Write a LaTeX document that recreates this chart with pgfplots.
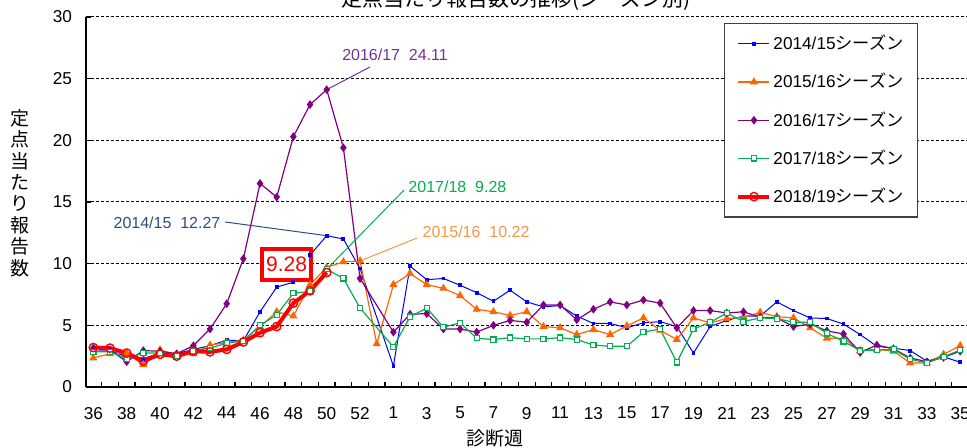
\documentclass[border=0pt]{standalone}
\usepackage{pgfplots}
\pgfplotsset{compat=1.18}
\usepackage{fontspec}
\setmainfont{Liberation Sans}
\newfontfamily\jp{Noto Sans CJK JP}
\definecolor{cblue}{HTML}{0000FF}
\definecolor{corange}{HTML}{FF6600}
\definecolor{cpurple}{HTML}{800080}
\definecolor{cgreen}{HTML}{00B050}
\definecolor{cred}{HTML}{FF0000}
\definecolor{apurple}{HTML}{7030A0}
\definecolor{aorange}{HTML}{F79646}
\definecolor{ablue}{HTML}{2E4E7E}
\begin{document}
\begin{tikzpicture}
\begin{axis}[
  name=a, scale only axis, width=440.5pt, height=185pt,
  xmin=-0.44, xmax=52.41, ymin=0, ymax=30,
  axis x line*=bottom, axis y line*=left,
  axis line style={-, line width=0.75pt, black},
  xtick={0,2,...,52},
  xticklabels={36,38,40,42,44,46,48,50,52,1,3,5,7,9,11,13,15,17,19,21,23,25,27,29,31,33,35},
  minor xtick={-0.5,0.5,...,52.5},
  major x tick style={draw=none},
  minor x tick style={black, line width=0.6pt},
  minor tick length=2.5pt,
  ytick={0,5,...,30},
  major y tick style={black, line width=0.6pt},
  major tick length=2.5pt,
  ymajorgrids,
  major grid style={black, dash pattern=on 1.5pt off 1pt, line width=0.5pt},
  tick label style={font=\fontsize{8.6}{10}\selectfont},
  xticklabel style={yshift=-6.5pt},
  yticklabel style={xshift=-3.5pt},
  /pgf/number format/assume math mode=true,
  legend style={at={(axis description cs:0.724,0.984)}, anchor=north west,
    draw=black!75, line width=0.6pt, fill=white,
    font=\fontsize{8.6}{10}\selectfont,
    nodes={inner sep=1pt},
    inner xsep=6pt, inner ysep=4.75pt, row sep=8.3pt, column sep=0pt},
  legend cell align=left,
  legend image code/.code={\draw[mark repeat=2,mark phase=2,#1] plot coordinates {(0pt,0pt) (7.75pt,0pt) (15.5pt,0pt)};},
]
% 2014/15
\addplot[cblue, line width=0.5pt, mark=square*, mark size=0.7pt, mark options={solid}] coordinates {
(0,2.9)(1,2.95)(2,2.45)(3,2.3)(4,2.75)(5,2.7)(6,3.05)(7,3.35)(8,3.8)(9,3.75)
(10,6.1)(11,8.1)(12,8.5)(13,10.7)(14,12.27)(15,12.0)(16,9.6)
(18,1.7)(19,9.8)(20,8.7)(21,8.8)(22,8.25)(23,7.65)(24,6.95)(25,7.85)(26,6.9)
(27,6.5)(28,6.6)(29,5.75)(30,5.15)(31,5.15)(32,4.8)(33,5.2)(34,5.3)(35,4.9)
(36,2.75)(37,4.9)(38,5.4)(39,5.75)(40,5.75)(41,6.9)(42,6.2)(43,5.6)(44,5.55)
(45,5.1)(46,4.25)(47,3.3)(48,3.15)(49,2.95)(50,2.1)(51,2.45)(52,2.0)};
\addlegendentry{2014/15{\jp シーズン}}
% 2015/16
\addplot[corange, line width=0.6pt, mark=triangle*, mark size=1.8pt, mark options={solid}] coordinates {
(0,2.35)(1,2.7)(2,2.75)(3,1.8)(4,3.0)(5,2.6)(6,2.7)(7,3.4)(8,3.6)(9,3.8)
(10,4.9)(11,6.1)(12,5.75)(13,8.3)(14,9.7)(15,10.15)(16,10.22)(17,3.5)
(18,8.3)(19,9.2)(20,8.3)(21,8.0)(22,7.4)(23,6.3)(24,6.1)(25,5.8)(26,6.1)
(27,4.9)(28,4.8)(29,4.25)(30,4.65)(31,4.25)(32,4.95)(33,5.6)(34,4.6)(35,3.85)
(36,5.6)(37,5.2)(38,5.55)(39,5.65)(40,6.05)(41,5.7)(42,5.6)(43,4.8)(44,3.95)
(45,3.95)(46,2.95)(47,3.05)(48,2.9)(49,1.95)(50,1.95)(51,2.65)(52,3.35)};
\addlegendentry{2015/16{\jp シーズン}}
% 2016/17
\addplot[cpurple, line width=0.6pt, mark=diamond*, mark size=1.7pt, mark options={solid}] coordinates {
(0,3.15)(1,3.0)(2,2.05)(3,2.95)(4,2.9)(5,2.7)(6,3.35)(7,4.7)(8,6.75)(9,10.4)
(10,16.5)(11,15.4)(12,20.3)(13,22.9)(14,24.11)(15,19.4)(16,8.8)
(18,4.45)(19,5.9)(20,5.95)(21,4.7)(22,4.7)(23,4.45)(24,5.0)(25,5.4)(26,5.25)
(27,6.65)(28,6.65)(29,5.45)(30,6.3)(31,6.9)(32,6.65)(33,7.05)(34,6.8)(35,4.8)
(36,6.2)(37,6.2)(38,6.0)(39,6.1)(40,5.65)(41,5.6)(42,4.9)(43,5.1)(44,4.55)
(45,4.3)(46,2.8)(47,3.4)(48,3.1)(49,2.35)(50,2.05)(51,2.4)(52,2.9)};
\addlegendentry{2016/17{\jp シーズン}}
% 2017/18
\addplot[cgreen, line width=0.6pt, mark=square*, mark size=1.3pt, mark options={solid, fill=white}] coordinates {
(0,2.85)(1,2.85)(2,2.3)(3,2.75)(4,2.75)(5,2.55)(6,2.95)(7,3.15)(8,3.55)(9,3.75)
(10,5.0)(11,5.85)(12,7.6)(13,7.75)(14,9.55)(15,8.8)(16,6.4)
(18,3.25)(19,5.7)(20,6.4)(21,4.85)(22,5.2)(23,3.95)(24,3.85)(25,4.0)(26,3.9)
(27,3.9)(28,4.0)(29,3.85)(30,3.4)(31,3.3)(32,3.3)(33,4.45)(34,4.7)(35,2.0)
(36,4.7)(37,5.25)(38,6.0)(39,5.3)(40,5.6)(41,5.55)(42,5.25)(43,5.25)(44,4.35)
(45,3.7)(46,2.95)(47,3.0)(48,3.05)(49,2.25)(50,1.95)(51,2.45)(52,3.0)};
\addlegendentry{2017/18{\jp シーズン}}
% 2018/19
\addplot[cred, line width=2pt, mark=o, mark size=2.1pt, mark options={solid, fill=white, line width=0.7pt}] coordinates {
(0,3.2)(1,3.15)(2,2.75)(3,2.1)(4,2.65)(5,2.5)(6,2.9)(7,2.85)(8,3.05)(9,3.65)
(10,4.4)(11,4.9)(12,6.8)(13,7.8)(14,9.28)};
\addlegendentry{2018/19{\jp シーズン}}
% annotations
\draw[apurple, line width=0.5pt] (axis cs:16.6,25.95) -- (axis cs:14,24.11);
\node[apurple, font=\fontsize{8}{9}\selectfont] at (axis cs:18.1,26.92) {2016/17\ \ 24.11};
\draw[cgreen, line width=0.5pt] (axis cs:18.64,15.97) -- (axis cs:14,9.55);
\node[cgreen, font=\fontsize{8}{9}\selectfont] at (axis cs:21.84,16.22) {2017/18\ \ 9.28};
\draw[aorange, line width=0.5pt] (axis cs:19.42,12.08) -- (axis cs:16,10.22);
\node[aorange, font=\fontsize{8}{9}\selectfont] at (axis cs:22.96,12.57) {2015/16\ \ 10.22};
\draw[ablue, line width=0.5pt] (axis cs:7.9,13.38) -- (axis cs:14,12.27);
\node[ablue, font=\fontsize{8}{9}\selectfont] at (axis cs:4.42,13.3) {2014/15\ \ 12.27};
\node[draw=cred, line width=2pt, fill=white, text=cred, font=\fontsize{10.5}{12}\selectfont,
  minimum width=24.5pt, minimum height=15.5pt, inner sep=1pt] at (axis cs:11.59,9.93) {9.28};
\end{axis}
\node[font=\jp\fontsize{10.5}{12}\selectfont] at (215pt,193.5pt) {定点当たり報告数の推移(シーズン別)};
\node[font=\jp\fontsize{9.5}{10.7}\selectfont, align=center] at (-33pt,97pt) {定\\点\\当\\た\\り\\報\\告\\数};
\node[font=\jp\fontsize{9.5}{11}\selectfont] at (204.5pt,-25.5pt) {診断週};
\pgfresetboundingbox
\useasboundingbox (-43pt,-30.5pt) rectangle (440.5pt,193.5pt);
\end{tikzpicture}
\end{document}
